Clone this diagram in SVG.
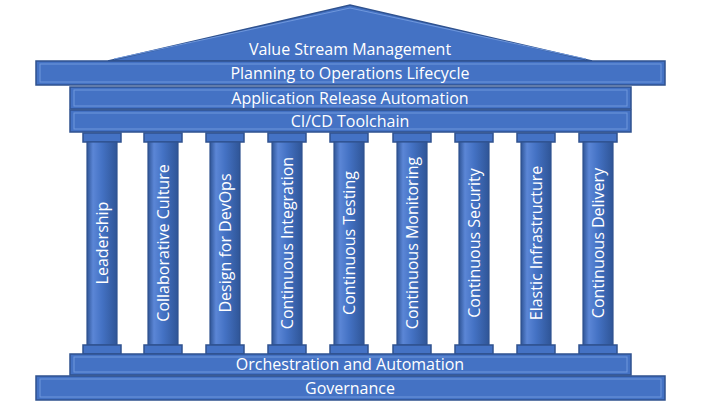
<svg xmlns="http://www.w3.org/2000/svg" width="701" height="404" viewBox="0 0 701 404">
<defs>
<linearGradient id="sh" x1="0" x2="1" y1="0" y2="0">
<stop offset="0" stop-color="#2f5597"/><stop offset="0.2" stop-color="#5b86d6"/><stop offset="0.5" stop-color="#4472c4"/><stop offset="1" stop-color="#2f5597"/>
</linearGradient>
</defs>
<style>
.b{fill:#4472c4;stroke:#2f528f;stroke-width:1.5}
.in{fill:none;stroke:#6f97dc;stroke-width:1}
.s{fill:url(#sh);stroke:#2f528f;stroke-width:1.2}
.t{fill:#fff;font-family:"Open Sans","Liberation Sans",sans-serif;font-size:16px;text-anchor:middle}
</style>
<g id="roof"><polygon class="b" points="108,61 350,5 592,61"/><polyline class="in" points="114,59 350,8 586,59"/><text class="t" x="350" y="55">Value Stream Management</text></g>
<g id="planning"><rect class="b" x="36" y="61" width="629" height="24"/><rect class="in" x="40" y="64" width="621" height="18"/><text class="t" x="350" y="79">Planning to Operations Lifecycle</text></g>
<g id="ara"><rect class="b" x="70" y="87" width="561" height="22"/><rect class="in" x="74" y="90" width="553" height="16"/><text class="t" x="350" y="104">Application Release Automation</text></g>
<g id="cicd"><rect class="b" x="70" y="110" width="561" height="22"/><rect class="in" x="74" y="113" width="553" height="16"/><text class="t" x="350" y="127">CI/CD Toolchain</text></g>
<g id="col1"><rect class="b" x="83" y="133" width="38" height="9"/><rect class="s" x="87" y="142" width="30" height="203"/><rect class="b" x="83" y="345" width="38" height="9"/><text class="t" transform="translate(108,243) rotate(-90)">Leadership</text></g>
<g id="col2"><rect class="b" x="144" y="133" width="38" height="9"/><rect class="s" x="148" y="142" width="30" height="203"/><rect class="b" x="144" y="345" width="38" height="9"/><text class="t" transform="translate(169,243) rotate(-90)">Collaborative Culture</text></g>
<g id="col3"><rect class="b" x="206" y="133" width="38" height="9"/><rect class="s" x="210" y="142" width="30" height="203"/><rect class="b" x="206" y="345" width="38" height="9"/><text class="t" transform="translate(231,243) rotate(-90)">Design for DevOps</text></g>
<g id="col4"><rect class="b" x="268" y="133" width="38" height="9"/><rect class="s" x="272" y="142" width="30" height="203"/><rect class="b" x="268" y="345" width="38" height="9"/><text class="t" transform="translate(293,243) rotate(-90)">Continuous Integration</text></g>
<g id="col5"><rect class="b" x="330" y="133" width="38" height="9"/><rect class="s" x="334" y="142" width="30" height="203"/><rect class="b" x="330" y="345" width="38" height="9"/><text class="t" transform="translate(355,243) rotate(-90)">Continuous Testing</text></g>
<g id="col6"><rect class="b" x="393" y="133" width="38" height="9"/><rect class="s" x="397" y="142" width="30" height="203"/><rect class="b" x="393" y="345" width="38" height="9"/><text class="t" transform="translate(418,243) rotate(-90)">Continuous Monitoring</text></g>
<g id="col7"><rect class="b" x="455" y="133" width="38" height="9"/><rect class="s" x="459" y="142" width="30" height="203"/><rect class="b" x="455" y="345" width="38" height="9"/><text class="t" transform="translate(480,243) rotate(-90)">Continuous Security</text></g>
<g id="col8"><rect class="b" x="517" y="133" width="38" height="9"/><rect class="s" x="521" y="142" width="30" height="203"/><rect class="b" x="517" y="345" width="38" height="9"/><text class="t" transform="translate(542,243) rotate(-90)">Elastic Infrastructure</text></g>
<g id="col9"><rect class="b" x="579" y="133" width="38" height="9"/><rect class="s" x="583" y="142" width="30" height="203"/><rect class="b" x="579" y="345" width="38" height="9"/><text class="t" transform="translate(604,243) rotate(-90)">Continuous Delivery</text></g>
<g id="orch"><rect class="b" x="70" y="354" width="561" height="21"/><rect class="in" x="74" y="357" width="553" height="15"/><text class="t" x="350" y="370">Orchestration and Automation</text></g>
<g id="gov"><rect class="b" x="36" y="376" width="629" height="24"/><rect class="in" x="40" y="379" width="621" height="18"/><text class="t" x="350" y="394">Governance</text></g>
<g id="connectors"/>
</svg>
